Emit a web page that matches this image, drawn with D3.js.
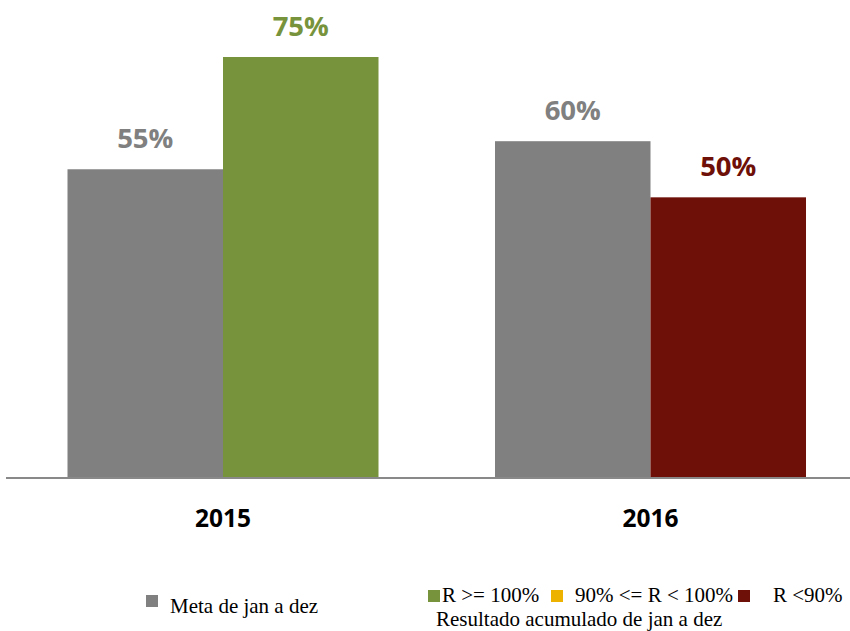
<!DOCTYPE html>
<html><head><meta charset="utf-8">
<script src="https://cdn.jsdelivr.net/npm/d3@7"></script>
<style>body{margin:0;background:#fff}svg{display:block}</style>
</head><body>
<svg id="c" width="850" height="631"></svg>
<script>
const categories = ["2015", "2016"];
const metaValues = [55, 60];
const resultValues = [75, 50];
const resultColors = ["#77933C", "#6E0F08"];
const metaColor = "#808080";
const legendItems = [
  {label: "R >= 100%", color: "#77933C"},
  {label: "90% <= R < 100%", color: "#EDB200"},
  {label: "R <90%", color: "#6E0F08"}
];

const svg = d3.select("#c");
const x = d3.scaleBand().domain(categories).range([9.25, 864.25]).paddingInner(0.2725).paddingOuter(0.13625);
const sub = d3.scaleBand().domain(["meta", "res"]).range([0, x.bandwidth()]);
const y = d3.scaleLinear().domain([0, 75]).range([478, 57]);

const g = svg.append("g");
categories.forEach((c, i) => {
  const bars = [
    {k: "meta", v: metaValues[i], col: metaColor},
    {k: "res", v: resultValues[i], col: resultColors[i]}
  ];
  bars.forEach(b => {
    const bx = x(c) + sub(b.k);
    g.append("rect").attr("x", bx).attr("y", y(b.v)).attr("width", sub.bandwidth()).attr("height", y(0) - y(b.v)).attr("fill", b.col);
    g.append("text").attr("x", bx + sub.bandwidth() / 2).attr("y", y(b.v) - 21)
      .attr("text-anchor", "middle").attr("font-family", "Open Sans").attr("font-weight", "bold")
      .attr("font-size", 27.5).attr("fill", b.col).text(b.v + "%");
  });
});

svg.append("line").attr("x1", 6).attr("x2", 850).attr("y1", 478).attr("y2", 478).attr("stroke", "#898989").attr("stroke-width", 2);

const xAxis = d3.axisBottom(x).tickSize(0).tickPadding(0);
const ax = svg.append("g").attr("transform", "translate(0,478)").call(xAxis);
ax.select(".domain").remove();
ax.selectAll("text").attr("y", 49).attr("dy", 0).attr("font-family", "Open Sans").attr("font-weight", "bold").attr("font-size", 24.5).attr("fill", "#000");

// Legend
const lf = "Liberation Serif";
const fs = 21;
svg.append("rect").attr("x", 146).attr("y", 595).attr("width", 12).attr("height", 12).attr("fill", metaColor);
svg.append("text").attr("x", 170).attr("y", 613).attr("font-family", lf).attr("font-size", fs).attr("fill", "#000").text("Meta de jan a dez");

const lx = [428, 551, 738];
const tx = [442, 575, 773];
legendItems.forEach((d, i) => {
  svg.append("rect").attr("x", lx[i]).attr("y", 590).attr("width", 12).attr("height", 12).attr("fill", d.color);
  svg.append("text").attr("x", tx[i]).attr("y", 602).attr("font-family", lf).attr("font-size", fs).attr("fill", "#000").text(d.label);
});
svg.append("text").attr("x", 436).attr("y", 626).attr("font-family", lf).attr("font-size", fs).attr("fill", "#000").text("Resultado acumulado de jan a dez");
</script>
</body></html>
